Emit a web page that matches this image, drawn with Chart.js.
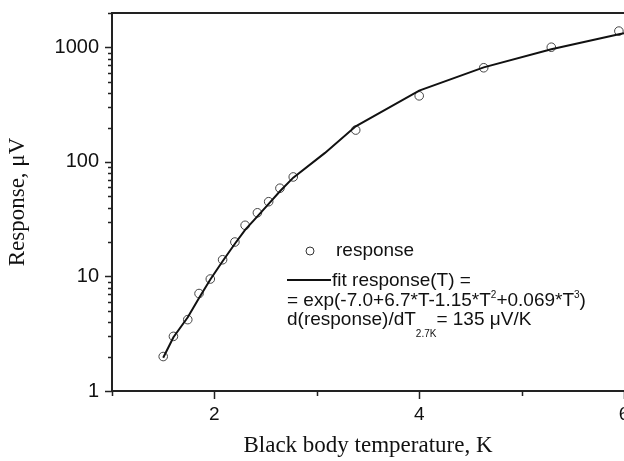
<!DOCTYPE html>
<html>
<head>
<meta charset="utf-8">
<script src="https://cdn.jsdelivr.net/npm/chart.js@4"></script>
<style>
  html, body { margin: 0; padding: 0; background: #fff; overflow: hidden; }
</style>
</head>
<body>
<canvas id="myChart" width="650" height="461"></canvas>
<script>
// measured points
const tempData = [1.5, 1.6, 1.74, 1.85, 1.96, 2.08, 2.2, 2.3, 2.42, 2.53, 2.64, 2.77, 3.38, 4.0, 4.63, 5.29, 5.95];
const responseData = [2.0, 3.0, 4.2, 7.1, 9.5, 14, 20, 28, 36, 45, 59, 74, 190, 378, 665, 1005, 1390];

// fit curve
const fitTemp = [1.5, 1.6, 1.74, 1.85, 1.96, 2.08, 2.2, 2.3, 2.42, 2.53, 2.64, 2.77, 3.08, 3.38, 4.0, 4.63, 5.29, 5.95, 6.0];
const fitResponse = [1.95, 2.95, 4.4, 6.5, 9.4, 13.6, 19.3, 25.5, 33.5, 43, 55.5, 73, 120, 205, 420, 670, 965, 1305, 1330];

const xTicks = [2, 4, 6];
const yTicks = [1, 10, 100, 1000];

const sans = "'Liberation Sans', Arial, sans-serif";
const serif = "'Liberation Serif', 'Times New Roman', serif";

// frame, tick marks and the legend box text
const decorations = {
  id: 'decorations',
  afterDraw(chart) {
    const { ctx, chartArea: a, scales: { x, y } } = chart;
    ctx.save();
    ctx.strokeStyle = '#222';
    ctx.lineWidth = 2;
    ctx.beginPath();
    ctx.moveTo(a.right + 10, a.top);
    ctx.lineTo(a.left, a.top);
    ctx.lineTo(a.left, a.bottom);
    ctx.lineTo(a.right + 10, a.bottom);
    ctx.stroke();

    ctx.lineWidth = 1.5;
    ctx.beginPath();
    for (let d = 1; d <= 1000; d *= 10) {
      for (let k = 1; k <= 9; k++) {
        const v = d * k;
        if (v > y.max) break;
        const py = Math.round(y.getPixelForValue(v)) + 0.5;
        const len = k === 1 ? 7 : 4;
        ctx.moveTo(a.left - len, py);
        ctx.lineTo(a.left, py);
      }
    }
    for (let t = 1; t <= 6; t++) {
      const px = Math.round(x.getPixelForValue(t)) + 0.5;
      const len = t % 2 === 0 ? 8 : 5;
      ctx.moveTo(px, a.bottom);
      ctx.lineTo(px, a.bottom + len);
    }
    ctx.stroke();

    // legend
    ctx.fillStyle = '#111';
    ctx.strokeStyle = '#333';
    ctx.lineWidth = 1;
    ctx.beginPath();
    ctx.arc(310, 251, 4, 0, Math.PI * 2);
    ctx.stroke();
    ctx.strokeStyle = '#111';
    ctx.lineWidth = 2;
    ctx.beginPath();
    ctx.moveTo(287, 280);
    ctx.lineTo(331, 280);
    ctx.stroke();

    ctx.textBaseline = 'alphabetic';
    ctx.textAlign = 'left';
    const run = (parts, x0, base) => {
      let cx = x0;
      parts.forEach(([txt, size, dy]) => {
        ctx.font = size + 'px ' + sans;
        ctx.fillText(txt, cx, base + dy);
        cx += ctx.measureText(txt).width;
      });
    };
    run([['response', 19, 0]], 336, 256);
    run([['fit response(T) =', 19, 0]], 332, 286);
    run([['= exp(-7.0+6.7*T-1.15*T', 19, 0], ['2', 10, -8], ['+0.069*T', 19, 0], ['3', 10, -8], [')', 19, 0]], 287, 306);
    run([['d(response)/dT', 19, 0], ['2.7K', 10, 12], ['= 135 \u03bcV/K', 19, 0]], 287, 325);
    ctx.restore();
  }
};

new Chart(document.getElementById('myChart'), {
  type: 'scatter',
  data: {
    datasets: [
      {
        label: 'fit response(T)',
        data: fitTemp.map((t, i) => ({ x: t, y: fitResponse[i] })),
        showLine: true,
        borderColor: '#111',
        borderWidth: 2,
        pointRadius: 0,
        tension: 0
      },
      {
        label: 'response',
        data: tempData.map((t, i) => ({ x: t, y: responseData[i] })),
        pointStyle: 'circle',
        pointRadius: 4.3,
        borderColor: '#444',
        borderWidth: 1,
        backgroundColor: 'rgba(0,0,0,0)'
      }
    ]
  },
  options: {
    responsive: false,
    animation: false,
    layout: { padding: { top: 13, right: 26, left: 0, bottom: 0 } },
    plugins: { legend: { display: false }, tooltip: { enabled: false } },
    scales: {
      x: {
        type: 'linear',
        min: 1,
        max: 6,
        afterBuildTicks: s => { s.ticks = xTicks.map(v => ({ value: v })); },
        afterFit: s => { s.height = 70; s.paddingLeft = 0; s.paddingRight = 0; },
        grid: { display: false, drawTicks: true, tickLength: 7 },
        border: { display: false },
        ticks: { autoSkip: false, maxRotation: 0, padding: 5, color: '#111', font: { family: sans, size: 19 } },
        title: { display: true, text: 'Black body temperature, K', color: '#111', font: { family: serif, size: 23 }, padding: { top: 0, bottom: 1 } }
      },
      y: {
        type: 'logarithmic',
        min: 1,
        max: 2000,
        afterBuildTicks: s => { s.ticks = yTicks.map(v => ({ value: v })); },
        afterFit: s => { s.width = 112; s.paddingTop = 0; s.paddingBottom = 0; },
        grid: { display: false, drawTicks: true, tickLength: 7 },
        border: { display: false },
        ticks: { autoSkip: false, padding: 6, color: '#111', font: { family: sans, size: 20 }, callback: v => String(v) },
        title: { display: true, text: 'Response, \u03bcV', color: '#111', font: { family: serif, size: 23 }, padding: { top: 4, bottom: 0 } }
      }
    }
  },
  plugins: [decorations]
});
</script>
</body>
</html>
